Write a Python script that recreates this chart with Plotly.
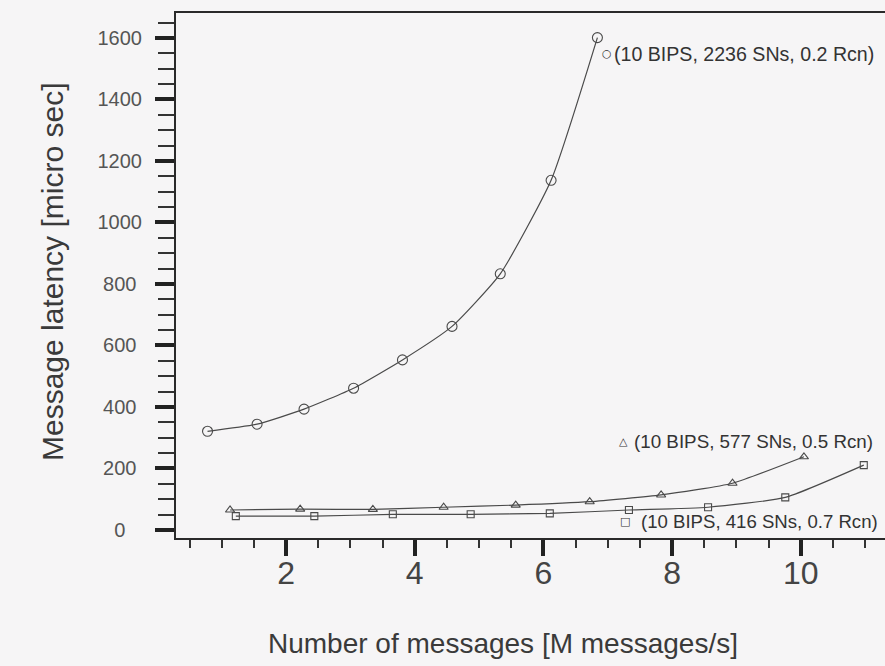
import plotly.graph_objects as go

# ---- data ----
x_circle = [0.78, 1.55, 2.28, 3.05, 3.81, 4.58, 5.33, 6.12, 6.84]
y_circle = [321, 344, 393, 461, 553, 662, 833, 1137, 1601]

x_tri = [1.13, 2.22, 3.35, 4.45, 5.57, 6.72, 7.83, 8.94, 10.05]
y_tri = [65, 68, 67, 74, 81, 92, 114, 152, 238]

x_sq = [1.22, 2.44, 3.66, 4.87, 6.10, 7.33, 8.56, 9.76, 10.98]
y_sq = [45, 45, 51, 51, 54, 65, 74, 106, 211]

series_labels = [
    "(10 BIPS, 2236 SNs, 0.2 Rcn)",
    "(10 BIPS, 577 SNs, 0.5 Rcn)",
    "(10 BIPS, 416 SNs, 0.7 Rcn)",
]
series_symbols = ["○", "△", "□"]

y_tickvals = [0, 200, 400, 600, 800, 1000, 1200, 1400, 1600]
y_ticktext = ["0", "200", "400", "600", "800", "1000", "1200", "1400", "1600"]
x_tickvals = [2, 4, 6, 8, 10]
x_ticktext = ["2", "4", "6", "8", "10"]

x_title = "Number of messages [M messages/s]"
y_title = "Message latency [micro sec]"

# ---- styling ----
BG = "#f6f5f6"
LINE = "#4a4a4a"
FONT = "Liberation Sans, Arial, Helvetica, sans-serif"

W, H = 885, 666
L, R, T, B = 176, 0, 13, 128
pw, ph = W - L - R, H - T - B


def px_to_paper(px, py):
    return (px - L) / pw, (H - B - py) / ph


def pad_center(t, width=4):
    # pad shorter labels on the right so right-aligned labels look centred
    missing = width - len(t)
    return t + "\u2007" * (missing // 2) + "\u2008" * (missing % 2)


fig = go.Figure()

common_line = dict(color=LINE, width=1.2, shape="spline", smoothing=0.5)

fig.add_trace(go.Scatter(
    x=x_circle, y=y_circle, mode="lines+markers",
    line=common_line,
    marker=dict(symbol="circle-open", size=10, color=LINE, line=dict(width=1.1, color=LINE)),
    showlegend=False, cliponaxis=False,
))
fig.add_trace(go.Scatter(
    x=x_tri, y=y_tri, mode="lines+markers",
    line=common_line,
    marker=dict(symbol="triangle-up-open", size=8, color=LINE, line=dict(width=1.1, color=LINE)),
    showlegend=False, cliponaxis=False,
))
fig.add_trace(go.Scatter(
    x=x_sq, y=y_sq, mode="lines+markers",
    line=common_line,
    marker=dict(symbol="square-open", size=7, color=LINE, line=dict(width=1.1, color=LINE)),
    showlegend=False, cliponaxis=False,
))

# series labels (positions in data coordinates)
label_pos = [(6.99, 1548), (7.25, 287), (7.27, 29)]
text_offset = [5, 8, 14]
label_size = [19.6, 18.8, 18.6]
for (lx, ly), lab, sym, off, fs in zip(label_pos, series_labels, series_symbols,
                                        text_offset, label_size):
    fig.add_annotation(x=lx, y=ly, xref="x", yref="y", text=sym, showarrow=False,
                       xanchor="center", yanchor="middle",
                       font=dict(family="DejaVu Sans", size=11, color="#333"))
    fig.add_annotation(x=lx, y=ly, xref="x", yref="y", text=lab, showarrow=False,
                       xanchor="left", yanchor="middle", xshift=off,
                       font=dict(family=FONT, size=fs, color="#333"))

# axis titles
tx, ty = px_to_paper(503, 643)
fig.add_annotation(x=tx, y=ty, xref="paper", yref="paper", text=x_title, showarrow=False,
                   xanchor="center", yanchor="middle",
                   font=dict(family=FONT, size=28, color="#3a3a3a"))
tx, ty = px_to_paper(52, 272)
fig.add_annotation(x=tx, y=ty, xref="paper", yref="paper", text=y_title, showarrow=False,
                   xanchor="center", yanchor="middle", textangle=-90,
                   font=dict(family=FONT, size=30, color="#3a3a3a"))

fig.update_layout(
    width=W, height=H,
    margin=dict(l=L, r=R, t=T, b=B, pad=0),
    paper_bgcolor=BG, plot_bgcolor=BG,
    font=dict(family=FONT, color="#444"),
    xaxis=dict(
        range=[0.29, 11.31],
        showgrid=False, zeroline=False,
        showline=True, linecolor="#2a2a2a", linewidth=2, mirror=True,
        tickmode="array", tickvals=x_tickvals, ticktext=x_ticktext,
        ticks="outside", ticklen=16, tickwidth=3.5, tickcolor="#222",
        tickfont=dict(family=FONT, size=32, color="#444"),
        ticklabelstandoff=-10,
        minor=dict(tickmode="linear", tick0=0, dtick=0.5, ticks="outside",
                   ticklen=8, tickwidth=1.5, tickcolor="#333", showgrid=False),
    ),
    yaxis=dict(
        range=[-26, 1681],
        showgrid=False, zeroline=False,
        showline=True, linecolor="#2a2a2a", linewidth=2,
        tickmode="array", tickvals=y_tickvals,
        ticktext=[pad_center(t) for t in y_ticktext],
        ticks="outside", ticklen=19, tickwidth=3.5, tickcolor="#222",
        tickfont=dict(family=FONT, size=20, color="#555"),
        ticklabelstandoff=9,
        minor=dict(tickmode="linear", tick0=0, dtick=50, ticks="outside",
                   ticklen=16, tickwidth=1.5, tickcolor="#333", showgrid=False),
    ),
)

fig.write_html("out.html")
